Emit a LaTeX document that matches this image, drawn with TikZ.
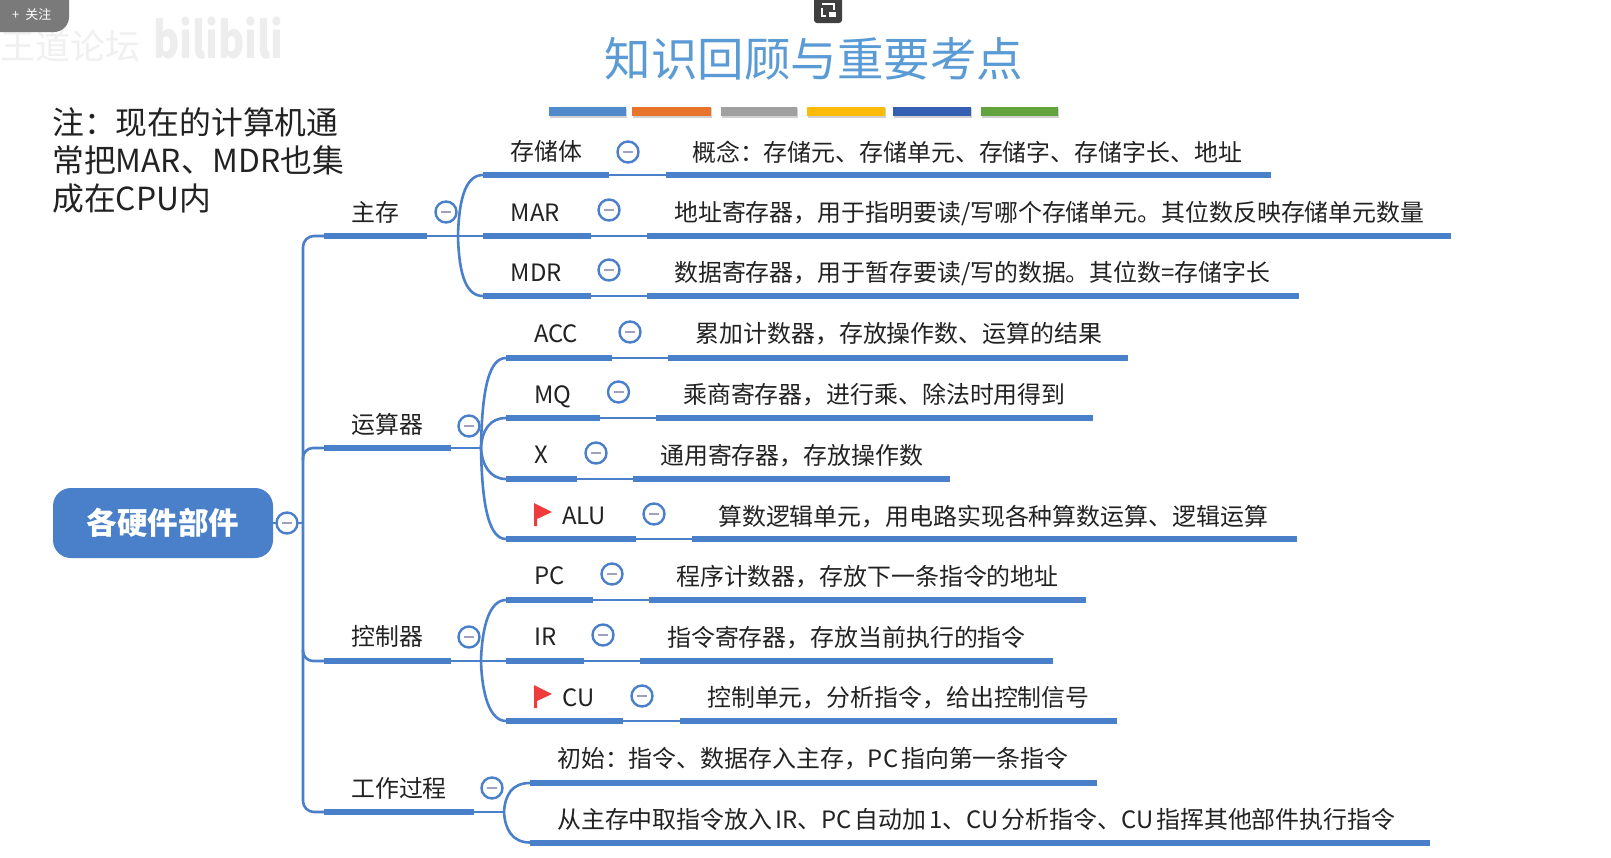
\documentclass[tikz,border=0pt]{standalone}
\usepackage{fontspec}
\setmainfont{Noto Sans CJK SC}
\definecolor{mapblue}{HTML}{4A7FC9}
\definecolor{titleblue}{HTML}{5B9BD5}
\definecolor{inkdark}{HTML}{222222}
\definecolor{minusgrey}{HTML}{A0A0C0}
\definecolor{flagred}{HTML}{EE3C3C}
\tikzset{
  thinlink/.style={draw=mapblue,line width=2.6pt},
  barline/.style={draw=mapblue,line width=6pt},
  labeltext/.style={anchor=west,inner sep=0pt,text=inkdark,font=\fontsize{23.9}{28}\selectfont,text height=20pt,text depth=3pt},
  collapse/.style={circle,draw=mapblue,fill=white,line width=2.4pt,minimum size=21pt,inner sep=0pt,
    path picture={\draw[minusgrey,line width=2pt] ([xshift=-5pt]path picture bounding box.center) -- ([xshift=5pt]path picture bounding box.center);}},
}
% \mapleaf{name}{y}{x0}{x1}{x2}{x3}: bar x0-x1, thin link x1-x2, bar x2-x3
\newcommand{\mapleaf}[6]{%
  \coordinate (#1a) at (#3,#2);\coordinate (#1b) at (#4,#2);
  \coordinate (#1c) at (#5,#2);\coordinate (#1d) at (#6,#2);
  \draw[barline] (#1a) -- (#1b);
  \draw[thinlink] (#1b) -- (#1c);
  \draw[barline] (#1c) -- (#1d);}
\newcommand{\mapflag}[2]{%
  \fill[flagred] (#1,#2) -- (#1+18,#2+9) -- (#1+3,#2+16) -- (#1+3,#2+23) -- (#1,#2+23) -- cycle;}
\begin{document}
\begin{tikzpicture}[x=1pt,y=-1pt]
\useasboundingbox (0,0) rectangle (1611,857);
\fill[white] (0,0) rectangle (1611,857);
% video overlays
\node[anchor=west,inner sep=0pt,text=black!6,font=\fontsize{35}{40}\selectfont] (wmname) at (0,46) {王道论坛};
\node[anchor=west,inner sep=0pt,text=black!7,font=\fontsize{50}{50}\bfseries\selectfont,xscale=0.8] (wmlogo) at (153,38) {bilibili};
\fill[black!52,rounded corners=15pt] (-30,-16) rectangle (69,32);
\node[anchor=west,inner sep=0pt,text=white,font=\fontsize{13}{15}\selectfont] (follow) at (12,15) {+\hspace{6pt}关注};
\fill[black!75,rounded corners=3pt] (814,-5) rectangle (842,23);
\draw[white,line width=1.2pt] (822,4) -- (834,4) -- (834,10) (822,8) -- (822,16) -- (826,16);
\fill[white] (829,12) rectangle (836,17);
% title
\node[inner sep=0pt,text=titleblue,font=\fontsize{46.5}{50}\selectfont] (title) at (814,59) {知识回顾与重要考点};
\foreach \n/\a/\b/\c in {b1/549/625.5/4F8BCB,b2/632/710.5/E8742C,b3/721/797/A0A0A0,b4/807/885/FBBB07,b5/893/971/355FB0,b6/981/1058/62A33E}{
  \definecolor{barcol}{HTML}{\c}
  \fill[black!18] (\a+1,108) rectangle (\b+1,118);
  \fill[barcol] (\a,107) rectangle (\b,116);
}
% note
\node[anchor=north west,inner sep=0pt,text=inkdark,align=left,font=\fontsize{31.8}{38}\selectfont] (note) at (52,107)
  {注：现在的计算机通\\常把MAR、MDR也集\\成在CPU内};
% trunk
\node[anchor=center,fill=mapblue,rounded corners=18pt,minimum width=220pt,minimum height=70pt,inner sep=0pt,text=white,font=\fontsize{30.5}{34}\bfseries\selectfont] (root) at (163,523) {各硬件部件};
\coordinate (tktop) at (324,236);
\coordinate (tkmid) at (303,523);
\coordinate (tkbot) at (324,812);
\draw[thinlink,rounded corners=11pt] (tktop) -- (303,236) -- (tkmid) -- (303,812) -- (tkbot);
\draw[thinlink,rounded corners=10pt] (tkmid |- 0,460) -- (303,448) -- (324,448);
\draw[thinlink,rounded corners=10pt] (tkmid |- 0,650) -- (303,661) -- (324,661);
\draw[thinlink] (root.east) -- (tkmid);
\node[collapse] (rootc) at (287,523) {};
% level 1
\coordinate (m1a) at (324,236);\coordinate (m1b) at (427,236);
\coordinate (m2a) at (324,448);\coordinate (m2b) at (451,448);
\coordinate (m3a) at (324,661);\coordinate (m3b) at (451,661);
\coordinate (m4a) at (324,812);\coordinate (m4b) at (474,812);
\coordinate (j1) at (458,236);\coordinate (j2) at (481,448);\coordinate (j3) at (481,661);\coordinate (j4) at (504,812);
\draw[barline] (m1a) -- (m1b);\draw[barline] (m2a) -- (m2b);\draw[barline] (m3a) -- (m3b);\draw[barline] (m4a) -- (m4b);
\draw[thinlink] (m1b) -- (j1);\draw[thinlink] (m2b) -- (j2);\draw[thinlink] (m3b) -- (j3);\draw[thinlink] (m4b) -- (j4);
% leaves
\mapleaf{s}{175}{483}{609}{666}{1271}
\mapleaf{r}{236}{483}{591}{647}{1451}
\mapleaf{d}{296}{483}{591}{647}{1299}
\mapleaf{ac}{358}{506}{612}{668}{1128}
\mapleaf{mq}{418}{506}{600}{656}{1093}
\mapleaf{xx}{479}{506}{577}{633}{950}
\mapleaf{al}{539}{506}{636}{692}{1297}
\mapleaf{pc}{600}{506}{593}{649}{1086}
\mapleaf{ir}{661}{506}{584}{640}{1053}
\mapleaf{cu}{721}{506}{623}{680}{1117}
\coordinate (a1) at (530,783);\coordinate (a2) at (1097,783);
\coordinate (e1) at (530,842.5);\coordinate (e2) at (1430,842.5);
\draw[barline] (a1) -- (a2);\draw[barline] (e1) -- (e2);
% curved joins
\draw[thinlink] (j1) .. controls (459,195) and (467,175) .. (sa);
\draw[thinlink] (j1) -- (ra);
\draw[thinlink] (j1) .. controls (459,277) and (467,296) .. (da);
\draw[thinlink] (j2) .. controls (482,385) and (490,358) .. (aca);
\draw[thinlink] (j2) .. controls (482,430) and (490,418) .. (mqa);
\draw[thinlink] (j2) .. controls (482,465) and (490,479) .. (xxa);
\draw[thinlink] (j2) .. controls (482,510) and (490,539) .. (ala);
\draw[thinlink] (j3) .. controls (482,625) and (490,600) .. (pca);
\draw[thinlink] (j3) -- (ira);
\draw[thinlink] (j3) .. controls (482,695) and (490,721) .. (cua);
\draw[thinlink] (j4) .. controls (505,795) and (512,783) .. (a1);
\draw[thinlink] (j4) .. controls (505,829) and (512,842.5) .. (e1);
% collapse buttons
\node[collapse] (c1) at (446,212) {};
\node[collapse] (c2) at (469,426) {};
\node[collapse] (c3) at (469,637) {};
\node[collapse] (c4) at (492,788) {};
\node[collapse] (cs) at (628,152) {};
\node[collapse] (cr) at (609,210) {};
\node[collapse] (cd) at (609,270) {};
\node[collapse] (cac) at (630,332) {};
\node[collapse] (cmq) at (618.5,392) {};
\node[collapse] (cxx) at (596,453) {};
\node[collapse] (cal) at (654,514) {};
\node[collapse] (cpc) at (612,574) {};
\node[collapse] (cir) at (603,635) {};
\node[collapse] (ccu) at (642,696) {};
% flags
\mapflag{534}{503}
\mapflag{534}{685}
% labels
\node[labeltext] (t1) at (351,213) {主存};
\node[labeltext] (t2) at (351,425) {运算器};
\node[labeltext] (t3) at (351,637) {控制器};
\node[labeltext] (t4) at (351,789) {工作过程};
\node[labeltext] (ls) at (510.5,152) {存储体};
\node[labeltext] (lr) at (510.5,213) {MAR};
\node[labeltext] (ld) at (510.5,273) {MDR};
\node[labeltext] (lac) at (534,334) {ACC};
\node[labeltext] (lmq) at (534,394.5) {MQ};
\node[labeltext] (lxx) at (534,455) {X};
\node[labeltext] (lal) at (562,516) {ALU};
\node[labeltext] (lpc) at (534,576) {PC};
\node[labeltext] (lir) at (534,637) {IR};
\node[labeltext] (lcu) at (562,698) {CU};
\node[labeltext] (ts) at (692,153) {概念：存储元、存储单元、存储字、存储字长、地址};
\node[labeltext] (tr) at (674,213) {地址寄存器，用于指明要读/写哪个存储单元。其位数反映存储单元数量};
\node[labeltext] (td) at (674,273) {数据寄存器，用于暂存要读/写的数据。其位数=存储字长};
\node[labeltext] (tac) at (695.5,334) {累加计数器，存放操作数、运算的结果};
\node[labeltext] (tmq) at (683,395) {乘商寄存器，进行乘、除法时用得到};
\node[labeltext] (txx) at (660,456) {通用寄存器，存放操作数};
\node[labeltext] (tal) at (718,517) {算数逻辑单元，用电路实现各种算数运算、逻辑运算};
\node[labeltext] (tpc) at (676,577) {程序计数器，存放下一条指令的地址};
\node[labeltext] (tir) at (667,638) {指令寄存器，存放当前执行的指令};
\node[labeltext] (tcu) at (707,698) {控制单元，分析指令，给出控制信号};
\node[labeltext] (ta) at (557,759) {初始：指令、数据存入主存，PC\hspace{3pt}指向第一条指令};
\node[labeltext] (te) at (557,820) {从主存中取指令放入\hspace{3pt}IR、PC\hspace{3pt}自动加\hspace{3pt}1、CU\hspace{3pt}分析指令、CU\hspace{3pt}指挥其他部件执行指令};
\end{tikzpicture}
\end{document}
